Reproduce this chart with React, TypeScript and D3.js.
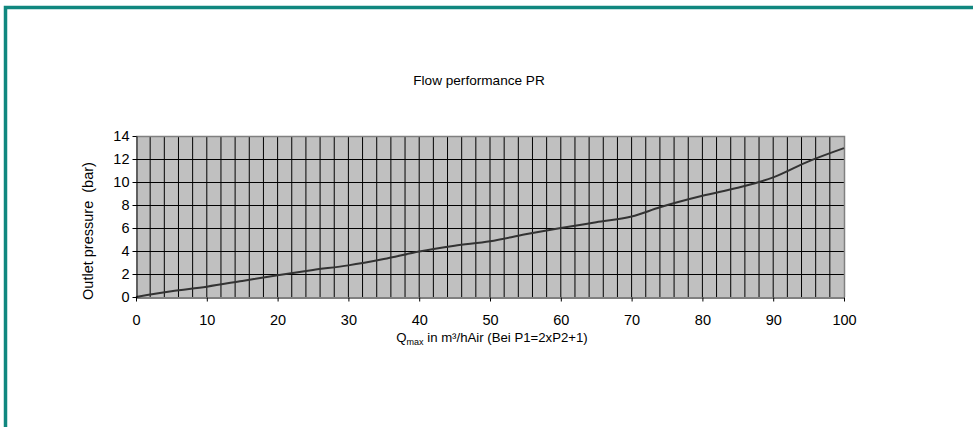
import React, { useEffect, useRef } from "react";
import * as d3 from "d3";

const flow = [0, 5, 10, 15, 20, 25, 30, 35, 40, 45, 50, 55, 60, 65, 70, 74, 80, 85, 88, 90, 95, 100];
const pressure = [0, 0.5, 0.9, 1.4, 1.9, 2.35, 2.75, 3.3, 3.95, 4.45, 4.85, 5.45, 6.0, 6.5, 7.0, 7.8, 8.8, 9.5, 10.0, 10.4, 11.8, 12.95];
const xTicks = [0, 10, 20, 30, 40, 50, 60, 70, 80, 90, 100];
const yTicks = [0, 2, 4, 6, 8, 10, 12, 14];

const App: React.FC = () => {
  const svgRef = useRef<SVGSVGElement | null>(null);
  const width = 973;
  const height = 427;
  const left = 136;
  const right = 844;
  const top = 136;
  const bottom = 297;

  useEffect(() => {
    const svg = d3.select(svgRef.current);
    svg.selectAll("*").remove();
    const font = "Liberation Sans, Arial, sans-serif";

    svg.append("rect").attr("width", width).attr("height", height).attr("fill", "white");

    // teal frame: only top and left edges fall inside the picture
    svg
      .append("path")
      .attr("d", `M5.5,${height}V7.5H${width}`)
      .attr("fill", "none")
      .attr("stroke", "#10877f")
      .attr("stroke-width", 3.5);

    const x = d3.scaleLinear().domain([0, 100]).range([left, right]);
    const y = d3.scaleLinear().domain([0, 14]).range([bottom, top]);

    svg
      .append("rect")
      .attr("x", left)
      .attr("y", top)
      .attr("width", right - left)
      .attr("height", bottom - top)
      .attr("fill", "#c0c0c0");

    const grid = svg.append("g").attr("stroke", "#000").attr("stroke-width", 1);
    d3.range(2, 100, 2).forEach(v => {
      const px = x(v);
      grid.append("line").attr("x1", px).attr("x2", px).attr("y1", top).attr("y2", bottom);
    });
    d3.range(2, 14, 2).forEach(v => {
      const py = Math.round(y(v)) + 0.5;
      grid.append("line").attr("x1", left).attr("x2", right).attr("y1", py).attr("y2", py);
    });

    // plot frame top / right
    svg
      .append("path")
      .attr("d", `M${left},${top + 0.5}H${right + 0.5}V${bottom}`)
      .attr("fill", "none")
      .attr("stroke", "#808080")
      .attr("stroke-width", 1.5);

    const line = d3
      .line<number>()
      .x((_, i) => x(flow[i]))
      .y(d => y(d))
      .curve(d3.curveMonotoneX);

    svg
      .append("path")
      .datum(pressure)
      .attr("fill", "none")
      .attr("stroke", "#333")
      .attr("stroke-width", 2)
      .attr("d", line);

    const axisX = d3
      .axisBottom(x)
      .tickValues(xTicks)
      .tickSize(4)
      .tickSizeOuter(0)
      .tickPadding(13);
    const gx = svg.append("g").attr("transform", `translate(0, ${bottom + 0.5})`).call(axisX);
    gx.selectAll("text").attr("font-family", font).attr("font-size", 14.5).attr("fill", "#000");
    gx.selectAll("line,path").attr("stroke", "#000");

    const axisY = d3.axisLeft(y).tickValues(yTicks).tickSize(4).tickSizeOuter(0).tickPadding(3);
    const gy = svg.append("g").attr("transform", `translate(${left + 0.5}, 0)`).call(axisY);
    gy.selectAll("text").attr("font-family", font).attr("font-size", 14.5).attr("fill", "#000");
    gy.selectAll("line,path").attr("stroke", "#000");

    svg
      .append("text")
      .attr("x", 479)
      .attr("y", 85)
      .attr("text-anchor", "middle")
      .attr("font-family", font)
      .attr("font-size", 13.6)
      .text("Flow performance PR");

    const xl = svg
      .append("text")
      .attr("x", 492)
      .attr("y", 342)
      .attr("text-anchor", "middle")
      .attr("font-family", font)
      .attr("font-size", 13.2);
    xl.append("tspan").text("Q");
    xl.append("tspan").attr("font-size", 9).attr("dy", 3).text("max");
    xl.append("tspan").attr("dy", -3).text(" in m³/hAir (Bei P1=2xP2+1)");

    svg
      .append("text")
      .attr("transform", `translate(93, 231) rotate(-90)`)
      .attr("text-anchor", "middle")
      .attr("font-family", font)
      .attr("font-size", 14.5)
      .attr("xml:space", "preserve")
      .text("Outlet pressure  (bar)");
  }, []);

  return (
    <svg
      ref={svgRef}
      width={width}
      height={height}
      style={{ position: "absolute", left: 0, top: 0, display: "block", overflow: "hidden" }}
    ></svg>
  );
};

export default App;
